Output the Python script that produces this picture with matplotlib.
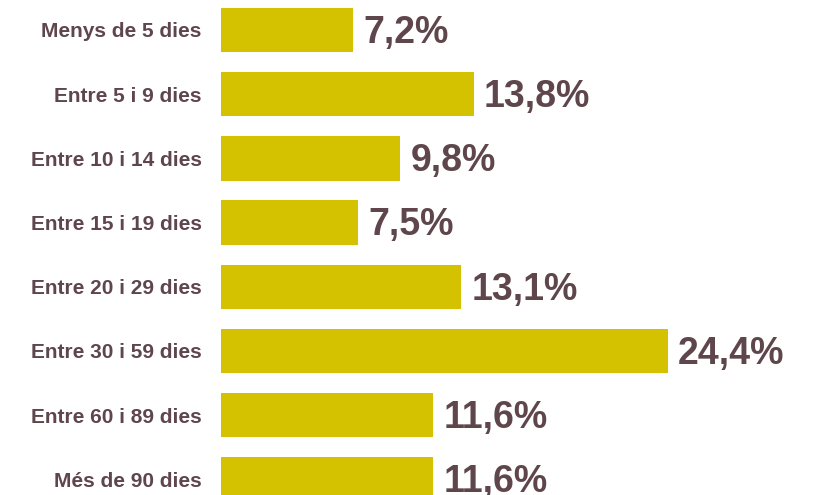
import matplotlib
matplotlib.use("Agg")
import matplotlib.pyplot as plt

categories = ["Menys de 5 dies", "Entre 5 i 9 dies", "Entre 10 i 14 dies",
              "Entre 15 i 19 dies", "Entre 20 i 29 dies", "Entre 30 i 59 dies",
              "Entre 60 i 89 dies", "Més de 90 dies"]
values = [7.2, 13.8, 9.8, 7.5, 13.1, 24.4, 11.6, 11.6]
value_labels = ["7,2%", "13,8%", "9,8%", "7,5%", "13,1%", "24,4%", "11,6%", "11,6%"]

bar_color = "#D4C200"
text_color = "#5E464C"

plt.rcParams['font.family'] = ['Liberation Sans', 'DejaVu Sans']

fig = plt.figure(figsize=(8.18, 4.95), dpi=100)
ax = fig.add_axes([221 / 818, 0, 597 / 818, 1])

pos = list(range(len(values)))
ax.barh(pos, values, height=0.69, color=bar_color)

for p, v, lab in zip(pos, values, value_labels):
    ax.annotate(lab, (v, p), xytext=(7.5, -2), textcoords="offset points",
                ha="left", va="center", fontsize=27, fontweight="bold",
                color=text_color)

ax.set_xlim(0, 597 / 18.3)
ax.set_ylim(7.243, -0.467)
ax.set_yticks(pos)
ax.set_yticklabels(categories, fontsize=15, fontweight="bold", color=text_color)
ax.tick_params(axis="y", length=0, pad=14)
ax.set_xticks([])
for s in ax.spines.values():
    s.set_visible(False)

fig.savefig("out.png", dpi=100)
